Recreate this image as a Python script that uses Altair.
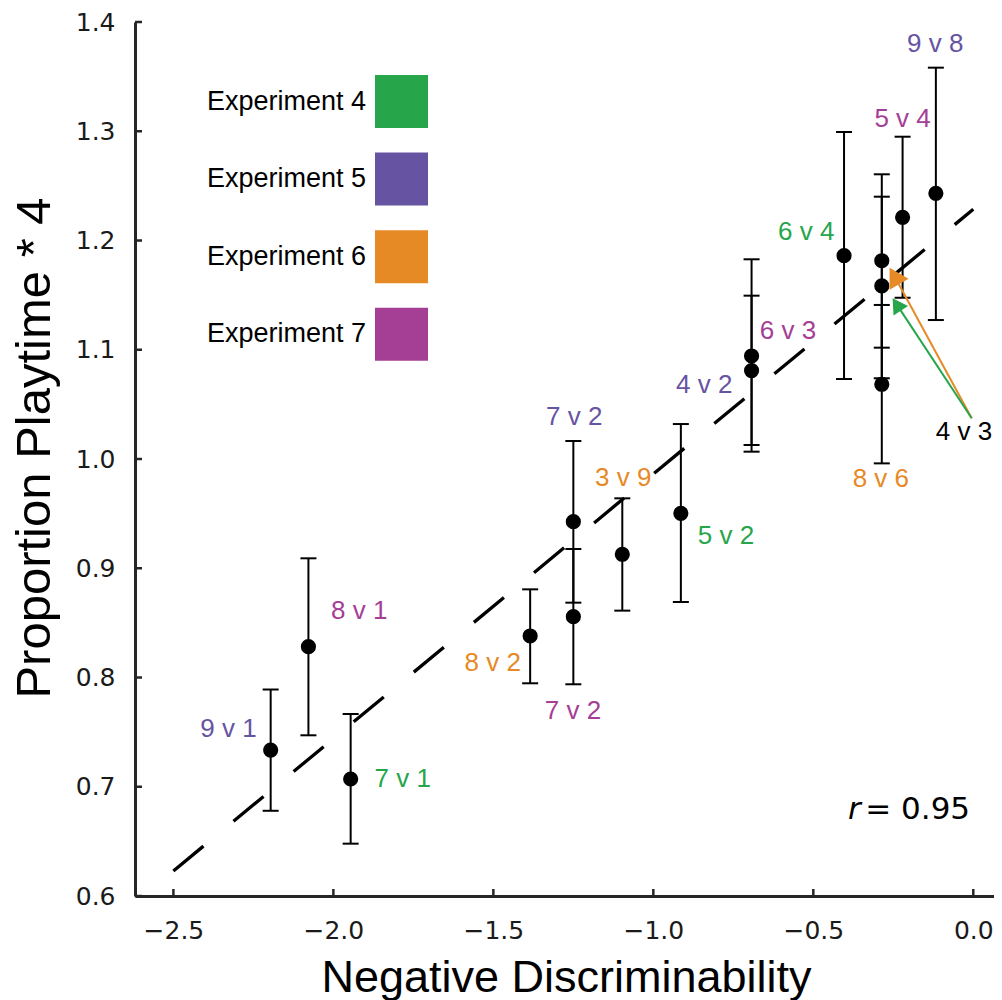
import altair as alt
import pandas as pd

# ---------------- data ----------------
pair = ["9 v 1", "8 v 1", "7 v 1", "8 v 2", "7 v 2", "7 v 2", "3 v 9", "5 v 2",
        "4 v 2", "6 v 3", "6 v 4", "4 v 3", "4 v 3", "8 v 6", "5 v 4", "9 v 8"]
experiment = ["Experiment 5", "Experiment 7", "Experiment 4", "Experiment 6",
              "Experiment 5", "Experiment 7", "Experiment 6", "Experiment 4",
              "Experiment 5", "Experiment 7", "Experiment 4", "Experiment 6",
              "Experiment 4", "Experiment 6", "Experiment 7", "Experiment 5"]
neg_discrim = [-2.196, -2.078, -1.946, -1.385, -1.250, -1.250, -1.097, -0.914,
               -0.693, -0.693, -0.404, -0.286, -0.286, -0.286, -0.221, -0.117]
playtime = [0.7336, 0.8282, 0.7071, 0.8380, 0.9426, 0.8557, 0.9128, 0.9503,
            1.0809, 1.0943, 1.1861, 1.1815, 1.1584, 1.0684, 1.2212, 1.2432]
err_lo = [0.6780, 0.7471, 0.6479, 0.7947, 0.8685, 0.7938, 0.8612, 0.8691,
          1.0128, 1.0067, 1.0732, 1.1019, 1.0739, 0.9960, 1.1476, 1.1272]
err_hi = [0.7890, 0.9091, 0.7666, 0.8807, 1.0165, 0.9176, 0.9640, 1.0320,
          1.1495, 1.1828, 1.2993, 1.2606, 1.2401, 1.1410, 1.2950, 1.3582]

# point labels (text, group colour, position)
label_text = ["9 v 1", "8 v 1", "7 v 1", "8 v 2", "7 v 2", "7 v 2", "3 v 9", "5 v 2",
              "4 v 2", "6 v 3", "6 v 4", "4 v 3", "8 v 6", "5 v 4", "9 v 8"]
label_group = ["Experiment 5", "Experiment 7", "Experiment 4", "Experiment 6",
               "Experiment 5", "Experiment 7", "Experiment 6", "Experiment 4",
               "Experiment 5", "Experiment 7", "Experiment 4", "Experiments 4 & 6",
               "Experiment 6", "Experiment 7", "Experiment 5"]
label_x = [-2.328, -1.919, -1.783, -1.502, -1.247, -1.251, -1.094, -0.773,
           -0.841, -0.579, -0.522, -0.029, -0.289, -0.221, -0.119]
label_y = [0.7527, 0.8610, 0.7069, 0.8137, 1.0380, 0.7693, 0.9830, 0.9297,
           1.0677, 1.1174, 1.2078, 1.0243, 0.9815, 1.3115, 1.3797]

# regression line end points
fit_x = [-2.5, 0.0]
fit_y = [0.6229, 1.2286]

# arrows from the "4 v 3" label
arrow_group = ["Experiment 6", "Experiment 4"]
arrow_x0 = [-0.005, -0.005]
arrow_y0 = [1.0373, 1.0373]
arrow_x1 = [-0.2416, -0.2394]
arrow_y1 = [1.1648, 1.1415]
# arrow heads
head_x = [-0.232, -0.2394]
head_y = [1.1650, 1.1414]
head_shape = ["triangle-right", "triangle-up"]
head_angle = [0, 327]
head_size = [480, 300]

# correlation annotation
r_value = "= 0.95"
r_x = [-0.352, -0.010]
r_y = [0.6702, 0.6702]

groups = ["Experiment 4", "Experiment 5", "Experiment 6", "Experiment 7", "Experiments 4 & 6"]
group_colors = ["#26A54A", "#6654A3", "#E68A26", "#A53E95", "#000000"]

x_ticks = [-2.5, -2.0, -1.5, -1.0, -0.5, 0.0]
y_ticks = [0.6, 0.7, 0.8, 0.9, 1.0, 1.1, 1.2, 1.3, 1.4]

# ---------------- tables ----------------
pts = pd.DataFrame({"x": neg_discrim, "y": playtime, "lo": err_lo, "hi": err_hi,
                    "pair": pair, "exp": experiment})
caps = pd.DataFrame({"x": neg_discrim + neg_discrim, "y": err_lo + err_hi})
labels = pd.DataFrame({"x": label_x, "y": label_y, "text": label_text, "exp": label_group})
fit = pd.DataFrame({"x": fit_x, "y": fit_y})
arrows = pd.DataFrame({"x": arrow_x0, "y": arrow_y0, "x2": arrow_x1, "y2": arrow_y1,
                       "exp": arrow_group})
heads = pd.DataFrame({"x": head_x, "y": head_y, "exp": arrow_group, "shp": head_shape,
                      "ang": head_angle, "sz": head_size})
xt = pd.DataFrame({"x": x_ticks})
yt = pd.DataFrame({"y": y_ticks})

W, H = 859, 874
AX = "#262626"

x_scale = alt.Scale(domain=[-2.62, 0.0647], nice=False, zero=False)
y_scale = alt.Scale(domain=[0.6, 1.4], nice=False, zero=False)

x_axis = alt.Axis(values=x_ticks, format=".1f", title="Negative Discriminability",
                  ticks=False, grid=False, labelPadding=22,
                  labelFont="DejaVu Sans", labelFontSize=25, labelColor="#1a1a1a",
                  titleFont="Liberation Sans", titleFontSize=45, titleFontWeight="normal",
                  titleColor="#000000", titleX=431, titleY=95.5, titleBaseline="alphabetic",
                  domainColor=AX, domainWidth=3, labelOverlap=False, labelFlush=False)
y_axis = alt.Axis(values=y_ticks, format=".1f", title="Proportion Playtime * 4",
                  ticks=False, grid=False, labelPadding=20,
                  labelFont="DejaVu Sans", labelFontSize=25, labelColor="#1a1a1a",
                  titleFont="Liberation Sans", titleFontSize=49, titleFontWeight="normal",
                  titleColor="#000000", titleX=-86, titleY=425.5, titleAngle=270,
                  titleBaseline="alphabetic", domainColor=AX, domainWidth=3,
                  labelOverlap=False, labelFlush=False)

X = alt.X("x:Q", scale=x_scale, axis=x_axis)
Y = alt.Y("y:Q", scale=y_scale, axis=y_axis)

legend = alt.Legend(values=groups[:4], title=None, orient="none", legendX=240, legendY=53,
                    symbolType="square", symbolSize=2809, symbolStrokeWidth=0,
                    symbolOpacity=1, rowPadding=24.6,
                    labelFont="Liberation Sans", labelFontSize=27, labelColor="#000000",
                    labelAlign="right", labelOffset={"expr": "-62"}, labelLimit=400)
color_scale = alt.Scale(domain=groups, range=group_colors)

line = alt.Chart(fit).mark_line(color="#000000", strokeWidth=3.3, strokeDash=[39, 39],
                                strokeCap="butt").encode(x=X, y=Y)

stems = alt.Chart(pts).mark_rule(color="#000000", strokeWidth=2).encode(
    x=X, y=alt.Y("lo:Q", scale=y_scale, axis=y_axis), y2="hi:Q")
cap_marks = alt.Chart(caps).mark_rule(color="#000000", strokeWidth=2,
                                      xOffset=-8, x2Offset=8).encode(
    x=X, x2="x:Q", y=Y)

dots = alt.Chart(pts).mark_circle(color="#000000", size=230, opacity=1).encode(x=X, y=Y)

text = alt.Chart(labels).mark_text(font="Liberation Sans", fontSize=26,
                                   align="center", baseline="middle").encode(
    x=X, y=Y, text="text:N",
    color=alt.Color("exp:N", scale=color_scale, legend=legend))

arrow_lines = alt.Chart(arrows).mark_rule(strokeWidth=2).encode(
    x=X, y=Y, x2="x2:Q", y2="y2:Q",
    color=alt.Color("exp:N", scale=color_scale, legend=legend))
arrow_heads = alt.Chart(heads).mark_point(filled=True, opacity=1).encode(
    x=X, y=Y,
    shape=alt.Shape("shp:N", scale=None),
    angle=alt.Angle("ang:Q", scale=None),
    size=alt.Size("sz:Q", scale=None),
    color=alt.Color("exp:N", scale=color_scale, legend=legend))

r_df = pd.DataFrame({"x": r_x, "y": r_y, "t": ["r", r_value]})
r_italic = alt.Chart(r_df.iloc[[0]]).mark_text(font="DejaVu Sans", fontSize=31,
                                               fontStyle="italic", align="right",
                                               baseline="alphabetic", color="#000000").encode(
    x=X, y=Y, text="t:N")
r_rest = alt.Chart(r_df.iloc[[1]]).mark_text(font="DejaVu Sans", fontSize=31,
                                             align="right", baseline="alphabetic",
                                             color="#000000").encode(
    x=X, y=Y, text="t:N")

x_tick_marks = alt.Chart(xt).mark_rule(color=AX, strokeWidth=2.5).encode(
    x=X, y=alt.value(H), y2=alt.value(H - 7))
y_tick_marks = alt.Chart(yt).mark_rule(color=AX, strokeWidth=2.5).encode(
    y=Y, x=alt.value(0), x2=alt.value(7))

chart = alt.layer(
    line, stems, cap_marks, dots, text, arrow_lines, arrow_heads,
    r_italic, r_rest, x_tick_marks, y_tick_marks
).properties(
    width=W, height=H,
    autosize=alt.AutoSizeParams(type="none"),
    padding={"left": 127, "top": 14, "right": 0, "bottom": 104},
    background="#ffffff",
).configure_view(stroke=None)

chart.save("out.html", embed_options={"renderer": "svg", "actions": False})
